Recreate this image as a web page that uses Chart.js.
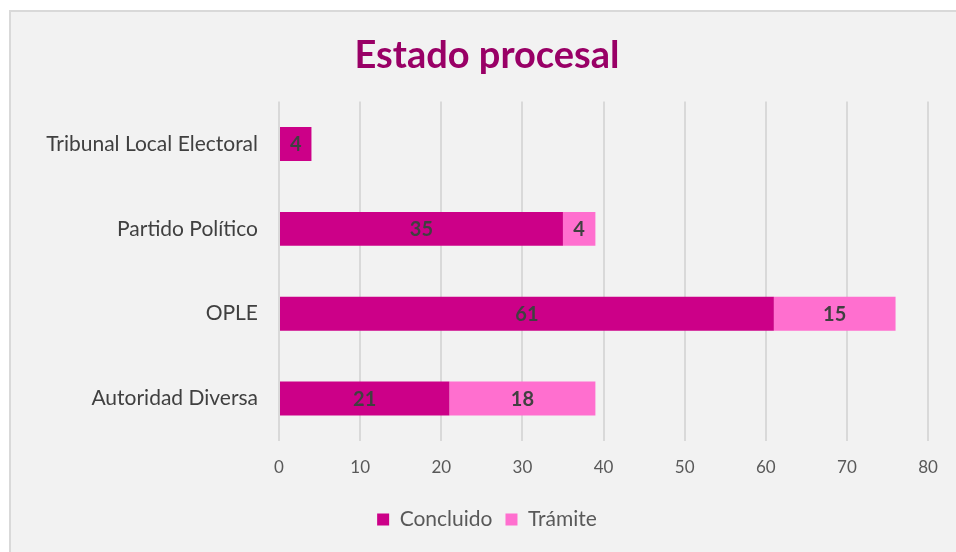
<!DOCTYPE html>
<html>
<head>
<meta charset="utf-8">
<script src="https://cdn.jsdelivr.net/npm/chart.js@4/dist/chart.umd.min.js"></script>
<style>
    html, body { margin: 0; padding: 0; background: #ffffff; overflow: hidden; }
    #box {
        position: absolute; left: 9px; top: 10px; width: 960px; height: 560px;
        background: #f2f2f2; border: 2px solid #d9d9d9; box-sizing: border-box;
    }
    #wrap { position: absolute; left: 0; top: 0; width: 956px; height: 552px; }
</style>
</head>
<body>
<div id="box"></div>
<div id="wrap"><canvas id="Estado-Chart" width="956" height="552"></canvas></div>
<script>
// Chart data
const categories = ['Tribunal Local Electoral', 'Partido Político', 'OPLE', 'Autoridad Diversa'];
const concluido = [4, 35, 61, 21];
const tramite = [0, 4, 15, 18];
const xTicks = [0, 10, 20, 30, 40, 50, 60, 70, 80];

const FONT = 'Lato, "Open Sans", sans-serif';

// Draws the value in the middle of each bar segment
const barLabels = {
    id: 'barLabels',
    afterDatasetsDraw(chart) {
        const ctx = chart.ctx;
        ctx.save();
        ctx.font = 'bold 20px ' + FONT;
        ctx.fillStyle = '#404040';
        ctx.textAlign = 'center';
        ctx.textBaseline = 'middle';
        chart.data.datasets.forEach((ds, i) => {
            chart.getDatasetMeta(i).data.forEach((bar, j) => {
                const v = ds.data[j];
                if (!v) return;
                const p = bar.getProps(['x', 'y', 'base'], true);
                ctx.fillText(v, (p.x + p.base) / 2, p.y + 1);
            });
        });
        ctx.restore();
    }
};

const ctx = document.getElementById('Estado-Chart').getContext('2d');
new Chart(ctx, {
    type: 'bar',
    data: {
        labels: categories,
        datasets: [{
            label: 'Concluido',
            data: concluido,
            backgroundColor: '#cc0088',
            barPercentage: 0.4,
            categoryPercentage: 1
        }, {
            label: 'Trámite',
            data: tramite,
            backgroundColor: '#ff6fcf',
            barPercentage: 0.4,
            categoryPercentage: 1
        }]
    },
    options: {
        indexAxis: 'y',
        responsive: false,
        animation: false,
        layout: { padding: { left: 46, right: 28, top: 0, bottom: 12 } },
        plugins: {
            title: {
                display: true,
                text: 'Estado procesal',
                color: '#990066',
                font: { family: FONT, size: 38, weight: 'bold' },
                padding: { top: 33, bottom: 23 }
            },
            legend: {
                position: 'bottom',
                labels: {
                    color: '#595959',
                    font: { family: FONT, size: 21 },
                    boxWidth: 12,
                    boxHeight: 12,
                    padding: 13
                }
            },
            tooltip: { enabled: false }
        },
        scales: {
            x: {
                stacked: true,
                min: 0,
                max: 80,
                afterBuildTicks: (axis) => { axis.ticks = xTicks.map(v => ({ value: v })); },
                afterFit: (axis) => { axis.height = 55; },
                ticks: { color: '#595959', font: { family: FONT, size: 17 }, padding: 16 },
                grid: { color: '#d9d9d9', lineWidth: 2, drawTicks: false },
                border: { display: false }
            },
            y: {
                stacked: true,
                afterFit: (axis) => { axis.width = 233; },
                ticks: { color: '#404040', font: { family: FONT, size: 21 }, padding: 13 },
                grid: { display: false },
                border: { display: false }
            }
        }
    },
    plugins: [barLabels]
});
</script>
</body>
</html>
